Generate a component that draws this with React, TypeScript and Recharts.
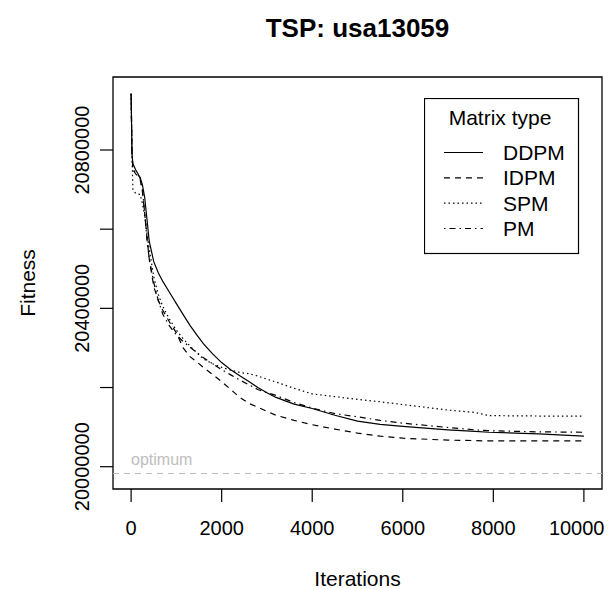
import { LineChart, Line, XAxis, YAxis, ReferenceLine, ReferenceArea, Legend } from 'recharts';

const iterations = [0, 20, 40, 100, 200, 250, 300, 350, 400, 500, 600, 700, 850, 1000, 1150, 1300, 1450, 1600, 1800, 2000, 2200, 2400, 2600, 2800, 3000, 3200, 3600, 4000, 4500, 5000, 5500, 6000, 7000, 7600, 7900, 9000, 10000];

const ddpm = [20942000, 20790000, 20765000, 20750000, 20730000, 20712000, 20680000, 20625000, 20570000, 20518000, 20490000, 20468000, 20440000, 20412000, 20384000, 20357000, 20333000, 20310000, 20285000, 20263000, 20245000, 20230000, 20215000, 20200000, 20187000, 20175000, 20158000, 20147000, 20130000, 20115000, 20107000, 20102000, 20093000, 20089000, 20087000, 20083000, 20077000];
const idpm = [20942000, 20790000, 20750000, 20740000, 20725000, 20695000, 20640000, 20580000, 20525000, 20455000, 20420000, 20395000, 20365000, 20338000, 20300000, 20278000, 20265000, 20250000, 20233000, 20215000, 20195000, 20175000, 20160000, 20150000, 20140000, 20130000, 20117000, 20106000, 20095000, 20085000, 20077000, 20072000, 20067000, 20066000, 20065000, 20065000, 20065000];
const spm = [20942000, 20780000, 20700000, 20690000, 20688000, 20665000, 20634000, 20590000, 20550000, 20480000, 20435000, 20405000, 20372000, 20345000, 20323000, 20305000, 20288000, 20272000, 20260000, 20251000, 20244000, 20238000, 20235000, 20229000, 20221000, 20214000, 20198000, 20184000, 20177000, 20170000, 20164000, 20157000, 20143000, 20137000, 20129000, 20128000, 20128000];
const pm = [20942000, 20790000, 20750000, 20745000, 20730000, 20700000, 20640000, 20575000, 20525000, 20465000, 20420000, 20385000, 20355000, 20333000, 20316000, 20302000, 20288000, 20275000, 20260000, 20245000, 20232000, 20219000, 20207000, 20195000, 20187000, 20180000, 20162000, 20148000, 20134000, 20126000, 20117000, 20110000, 20099000, 20093000, 20091000, 20088000, 20087000];

const optimum = 19982859;
const xTicks = [0, 2000, 4000, 6000, 8000, 10000];
const yTicks = [20000000, 20200000, 20400000, 20600000, 20800000];
const xDomain = [-400, 10400];
const yDomain = [19943670, 20984400];

const series = [
  { key: 'DDPM', dash: undefined },
  { key: 'IDPM', dash: '6 5' },
  { key: 'SPM', dash: '1.5 3' },
  { key: 'PM', dash: '1.5 4 6 4' },
];

const data = iterations.map((it, i) => ({
  it,
  DDPM: ddpm[i],
  IDPM: idpm[i],
  SPM: spm[i],
  PM: pm[i],
}));

const FONT = '"Liberation Sans", Arial, Helvetica, sans-serif';
const W = 597;
const H = 581;

function XTick({ x, payload }: any) {
  // the last label would run past the page edge, so pin its right end
  const last = payload.value === xTicks[xTicks.length - 1];
  return (
    <text
      x={last ? W - 0.5 : x}
      y={526.5}
      textAnchor={last ? 'end' : 'middle'}
      fontSize={20}
      fontFamily={FONT}
      fill="#000"
    >
      {payload.value}
    </text>
  );
}

function YTick({ y, payload }: any) {
  // R drops labels that would overlap: only every other one is shown
  if ((payload.value / 200000) % 2 === 1) return null;
  return (
    <text
      x={81.5}
      y={y}
      transform={`rotate(-90, 81.5, ${y})`}
      textAnchor="middle"
      fontSize={20}
      fontFamily={FONT}
      fill="#000"
    >
      {payload.value}
    </text>
  );
}

function LegendBox() {
  const rows = [62, 87.3, 112.6, 138];
  return (
    <svg width={156} height={157} style={{ display: 'block' }}>
      <rect x={0.5} y={0.5} width={154} height={155} fill="#fff" stroke="#000" strokeWidth={1.2} />
      <text x={76} y={26.5} textAnchor="middle" fontSize={21} fontFamily={FONT}>
        Matrix type
      </text>
      {series.map((s, i) => (
        <g key={s.key}>
          <line x1={20} x2={59} y1={rows[i] - 7.5} y2={rows[i] - 7.5} stroke="#000" strokeWidth={1.2} strokeDasharray={s.dash} />
          <text x={79} y={rows[i]} fontSize={21} fontFamily={FONT}>
            {s.key}
          </text>
        </g>
      ))}
    </svg>
  );
}

export default function App() {
  return (
    <div style={{ position: 'relative', width: W, height: H, fontFamily: FONT }}>
      <LineChart width={W} height={H} data={data} margin={{ top: 69, right: 3, left: 0, bottom: 0 }}>
        <XAxis
          dataKey="it"
          type="number"
          domain={xDomain}
          ticks={xTicks}
          interval={0}
          height={100}
          axisLine={false}
          tickSize={13}
          tickLine={{ stroke: '#000', strokeWidth: 1.2 }}
          tick={<XTick />}
        />
        <YAxis
          type="number"
          domain={yDomain}
          ticks={yTicks}
          interval={0}
          width={105}
          axisLine={false}
          tickSize={13}
          tickLine={{ stroke: '#000', strokeWidth: 1.2 }}
          tick={<YTick />}
        />
        <ReferenceArea
          x1={xDomain[0]}
          x2={xDomain[1]}
          y1={yDomain[0]}
          y2={yDomain[1]}
          fill="none"
          fillOpacity={0}
          stroke="#000"
          strokeWidth={1.3}
          ifOverflow="visible"
        />
        <ReferenceLine
          y={optimum}
          stroke="#bdbdbd"
          strokeWidth={1.2}
          strokeDasharray="6 5"
          label={(props: any) => (
            <text x={props.viewBox.x + 18} y={props.viewBox.y - 8} fontSize={16} fontFamily={FONT} fill="#bdbdbd">
              optimum
            </text>
          )}
        />
        {series.map((s) => (
          <Line
            key={s.key}
            type="linear"
            dataKey={s.key}
            stroke="#000"
            strokeWidth={1.2}
            strokeDasharray={s.dash}
            dot={false}
            activeDot={false}
            isAnimationActive={false}
          />
        ))}
        <Legend
          layout="vertical"
          align="center"
          verticalAlign="middle"
          content={() => <LegendBox />}
          wrapperStyle={{ position: 'absolute', left: 416, top: 90, width: 156, height: 157 }}
        />
      </LineChart>
      <svg width={W} height={H} style={{ position: 'absolute', left: 0, top: 0, pointerEvents: 'none' }}>
        <text x={349.5} y={29} textAnchor="middle" fontSize={26} fontWeight="bold" fontFamily={FONT}>
          TSP: usa13059
        </text>
        <text x={349.5} y={577.5} textAnchor="middle" fontSize={21} fontFamily={FONT}>
          Iterations
        </text>
        <text x={26.5} y={275} textAnchor="middle" fontSize={21} fontFamily={FONT} transform="rotate(-90, 26.5, 275)">
          Fitness
        </text>
      </svg>
    </div>
  );
}
